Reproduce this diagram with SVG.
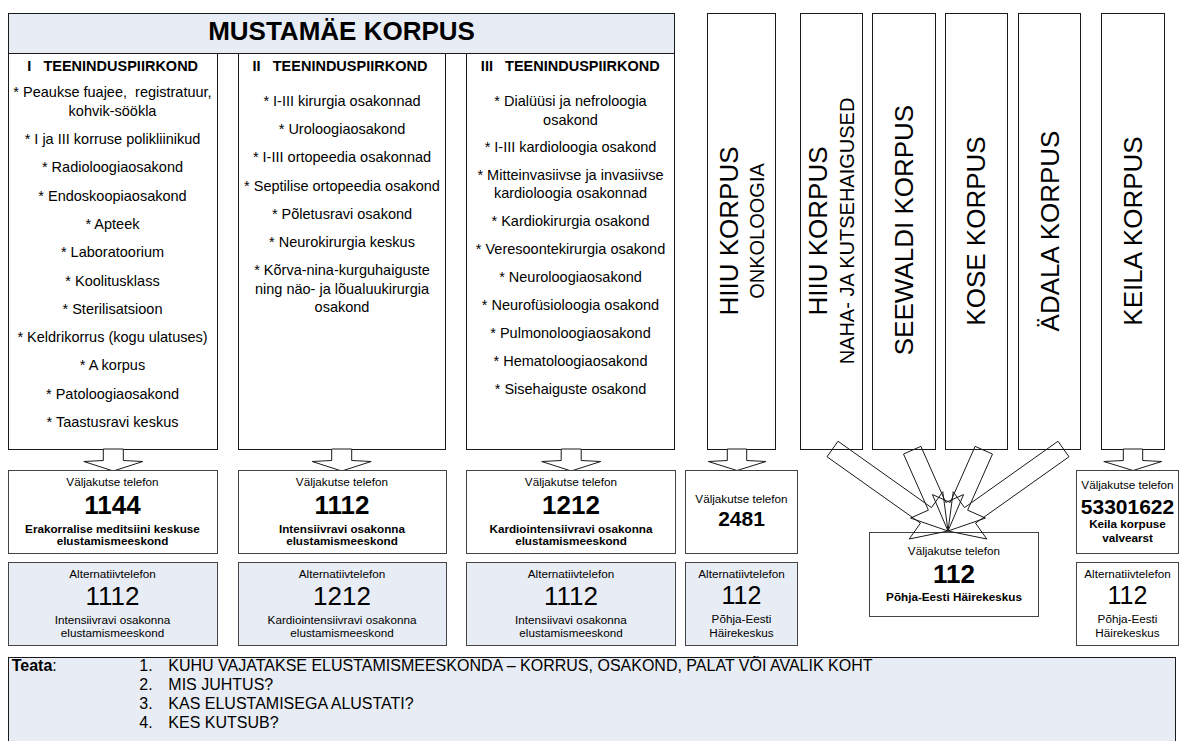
<svg xmlns="http://www.w3.org/2000/svg" width="1182" height="741" viewBox="0 0 1182 741">
<style>
text{font-family:"Liberation Sans",Arial,sans-serif;fill:#000}
.box{fill:#fff;stroke:#1a1a1a;stroke-width:1}
.hdr{fill:#E8ECF4;stroke:#1a1a1a;stroke-width:1}
.val{fill:#fff;stroke:#444;stroke-width:1}
.alt{fill:#E8ECF4;stroke:#444;stroke-width:1}
.arr{fill:#fff;stroke:#1a1a1a;stroke-width:1}
.fan{fill:none;stroke:#1a1a1a;stroke-width:1}
.title{font-size:26px;font-weight:bold;text-anchor:middle}
.ch{font-size:14.5px;font-weight:bold;text-anchor:middle;white-space:pre}
.it{font-size:14.5px;text-anchor:middle;white-space:pre}
.vbig{font-size:26px;text-anchor:middle}
.vsub{font-size:20px;text-anchor:middle}
.lbl{font-size:11.7px;text-anchor:middle}
.lblb{font-size:11.7px;font-weight:bold;text-anchor:middle}
.numb{font-size:26px;font-weight:bold;text-anchor:middle}
.num{font-size:26px;text-anchor:middle}
.ft{font-size:16px}
</style>

<g id="mustamae-header">
<rect class="hdr" x="8.5" y="13.5" width="666" height="40"/>
<text class="title" x="341.5" y="40">MUSTAMÄE KORPUS</text>
</g>

<g id="teenindus-1">
<rect class="box" x="8.5" y="53.5" width="209" height="396"/>
<text class="ch" x="112.7" y="71">I   TEENINDUSPIIRKOND</text>
<text class="it" x="112.5" y="96.5">* Peaukse fuajee,  registratuur,</text>
<text class="it" x="112.5" y="116">kohvik-söökla</text>
<text class="it" x="112.5" y="144">* I ja III korruse polikliinikud</text>
<text class="it" x="112.5" y="172.3">* Radioloogiaosakond</text>
<text class="it" x="112.5" y="200.6">* Endoskoopiaosakond</text>
<text class="it" x="112.5" y="228.9">* Apteek</text>
<text class="it" x="112.5" y="257.2">* Laboratoorium</text>
<text class="it" x="112.5" y="285.5">* Koolitusklass</text>
<text class="it" x="112.5" y="313.8">* Sterilisatsioon</text>
<text class="it" x="112.5" y="342.1">* Keldrikorrus (kogu ulatuses)</text>
<text class="it" x="112.5" y="370.4">* A korpus</text>
<text class="it" x="112.5" y="398.7">* Patoloogiaosakond</text>
<text class="it" x="112.5" y="427">* Taastusravi keskus</text>
</g>

<g id="teenindus-2">
<rect class="box" x="238.5" y="53.5" width="207" height="396"/>
<text class="ch" x="340" y="71">II   TEENINDUSPIIRKOND</text>
<text class="it" x="342" y="106">* I-III kirurgia osakonnad</text>
<text class="it" x="342" y="134.2">* Uroloogiaosakond</text>
<text class="it" x="342" y="162.4">* I-III ortopeedia osakonnad</text>
<text class="it" x="342" y="190.6">* Septilise ortopeedia osakond</text>
<text class="it" x="342" y="218.8">* Põletusravi osakond</text>
<text class="it" x="342" y="247">* Neurokirurgia keskus</text>
<text class="it" x="342" y="275.2">* Kõrva-nina-kurguhaiguste</text>
<text class="it" x="342" y="293.7">ning näo- ja lõualuukirurgia</text>
<text class="it" x="342" y="312.2">osakond</text>
</g>

<g id="teenindus-3">
<rect class="box" x="466.5" y="53.5" width="208" height="396"/>
<text class="ch" x="570.3" y="71">III   TEENINDUSPIIRKOND</text>
<text class="it" x="570.5" y="106">* Dialüüsi ja nefroloogia</text>
<text class="it" x="570.5" y="124.5">osakond</text>
<text class="it" x="570.5" y="152">* I-III kardioloogia osakond</text>
<text class="it" x="570.5" y="180">* Mitteinvasiivse ja invasiivse</text>
<text class="it" x="570.5" y="198">kardioloogia osakonnad</text>
<text class="it" x="570.5" y="226">* Kardiokirurgia osakond</text>
<text class="it" x="570.5" y="253.5">* Veresoontekirurgia osakond</text>
<text class="it" x="570.5" y="282">* Neuroloogiaosakond</text>
<text class="it" x="570.5" y="310">* Neurofüsioloogia osakond</text>
<text class="it" x="570.5" y="338">* Pulmonoloogiaosakond</text>
<text class="it" x="570.5" y="366">* Hematoloogiaosakond</text>
<text class="it" x="570.5" y="393.5">* Sisehaiguste osakond</text>
</g>

<g id="hiiu-onkoloogia">
<rect class="box" x="707.5" y="13.5" width="68" height="436"/>
<text class="vbig" transform="translate(737.5,231) rotate(-90)">HIIU KORPUS</text>
<text class="vsub" transform="translate(763.5,231) rotate(-90)">ONKOLOOGIA</text>
</g>
<g id="hiiu-naha">
<rect class="box" x="800.5" y="13.5" width="62" height="436"/>
<text class="vbig" transform="translate(827,231) rotate(-90)">HIIU KORPUS</text>
<text class="vsub" transform="translate(853.5,231) rotate(-90)">NAHA- JA KUTSEHAIGUSED</text>
</g>
<g id="seewaldi">
<rect class="box" x="872.5" y="13.5" width="63" height="436"/>
<text class="vbig" transform="translate(912.5,230) rotate(-90)">SEEWALDI KORPUS</text>
</g>
<g id="kose">
<rect class="box" x="945.5" y="13.5" width="62" height="436"/>
<text class="vbig" transform="translate(985,231) rotate(-90)">KOSE KORPUS</text>
</g>
<g id="adala">
<rect class="box" x="1018.5" y="13.5" width="62" height="436"/>
<text class="vbig" transform="translate(1058.5,231) rotate(-90)">ÄDALA KORPUS</text>
</g>
<g id="keila">
<rect class="box" x="1101.5" y="13.5" width="63" height="436"/>
<text class="vbig" transform="translate(1141.7,231) rotate(-90)">KEILA KORPUS</text>
</g>

<g id="connectors">
<polygon class="arr" points="103.3,449 123.3,449 123.3,460.5 142.8,461.5 113.3,471 83.8,461.5 103.3,460.5"/>
<polygon class="arr" points="331.7,449 351.7,449 351.7,460.5 371.2,461.5 341.7,471 312.2,461.5 331.7,460.5"/>
<polygon class="arr" points="561.2,449 581.2,449 581.2,460.5 600.7,461.5 571.2,471 541.7,461.5 561.2,460.5"/>
<polygon class="arr" points="727.3,449 746.7,449 746.7,460.5 766,461.5 737,470.5 708.3,461.5 727.3,460.5"/>
<polygon class="arr" points="1123.3,449 1142.7,449 1142.7,460.5 1161.7,461.5 1133,470.5 1103.8,461.5 1123.3,460.5"/>
</g>

<g id="val-1">
<rect class="val" x="8.5" y="470.5" width="209" height="83"/>
<text class="lbl" x="112.5" y="486">Väljakutse telefon</text>
<text class="numb" x="112.5" y="513.6">1144</text>
<text class="lblb" x="112.5" y="532.5">Erakorralise meditsiini keskuse</text>
<text class="lblb" x="112.5" y="545">elustamismeeskond</text>
</g>
<g id="alt-1">
<rect class="alt" x="8.5" y="562.5" width="209" height="83"/>
<text class="lbl" x="112.5" y="577.5">Alternatiivtelefon</text>
<text class="num" x="112.5" y="605">1112</text>
<text class="lbl" x="112.5" y="623.5">Intensiivravi osakonna</text>
<text class="lbl" x="112.5" y="637">elustamismeeskond</text>
</g>

<g id="val-2">
<rect class="val" x="238.5" y="470.5" width="208" height="83"/>
<text class="lbl" x="342" y="486">Väljakutse telefon</text>
<text class="numb" x="342" y="513.6">1112</text>
<text class="lblb" x="342" y="532.5">Intensiivravi osakonna</text>
<text class="lblb" x="342" y="545">elustamismeeskond</text>
</g>
<g id="alt-2">
<rect class="alt" x="238.5" y="562.5" width="208" height="83"/>
<text class="lbl" x="342" y="577.5">Alternatiivtelefon</text>
<text class="num" x="342" y="605">1212</text>
<text class="lbl" x="342" y="623.5">Kardiointensiivravi osakonna</text>
<text class="lbl" x="342" y="637">elustamismeeskond</text>
</g>

<g id="val-3">
<rect class="val" x="466.5" y="470.5" width="209" height="83"/>
<text class="lbl" x="571" y="486">Väljakutse telefon</text>
<text class="numb" x="571" y="513.6">1212</text>
<text class="lblb" x="571" y="532.5">Kardiointensiivravi osakonna</text>
<text class="lblb" x="571" y="545">elustamismeeskond</text>
</g>
<g id="alt-3">
<rect class="alt" x="466.5" y="562.5" width="209" height="83"/>
<text class="lbl" x="571" y="577.5">Alternatiivtelefon</text>
<text class="num" x="571" y="605">1112</text>
<text class="lbl" x="571" y="623.5">Intensiivavi osakonna</text>
<text class="lbl" x="571" y="637">elustamismeeskond</text>
</g>

<g id="val-hiiu">
<rect class="val" x="685.5" y="470.5" width="112" height="83"/>
<text class="lbl" x="741.5" y="502.5">Väljakutse telefon</text>
<text class="numb" x="741.5" y="526" style="font-size:21px">2481</text>
</g>
<g id="alt-hiiu">
<rect class="alt" x="685.5" y="562.5" width="112" height="83"/>
<text class="lbl" x="741.5" y="578">Alternatiivtelefon</text>
<text class="num" x="741.5" y="604" style="font-size:25px">112</text>
<text class="lbl" x="741.5" y="623">Põhja-Eesti</text>
<text class="lbl" x="741.5" y="637">Häirekeskus</text>
</g>

<g id="val-keila">
<rect class="val" x="1076.5" y="470.5" width="102" height="83"/>
<text class="lbl" x="1127.5" y="489">Väljakutse telefon</text>
<text class="numb" x="1127.5" y="513.5" style="font-size:21px">53301622</text>
<text class="lblb" x="1127.5" y="528">Keila korpuse</text>
<text class="lblb" x="1127.5" y="541.5">valvearst</text>
</g>
<g id="alt-keila">
<rect class="val" x="1076.5" y="562.5" width="102" height="83"/>
<text class="lbl" x="1127.5" y="578">Alternatiivtelefon</text>
<text class="num" x="1127.5" y="604" style="font-size:25px">112</text>
<text class="lbl" x="1127.5" y="623">Põhja-Eesti</text>
<text class="lbl" x="1127.5" y="637">Häirekeskus</text>
</g>

<g id="haire-112">
<rect class="val" x="869.5" y="532.5" width="169" height="84"/>
<text class="lbl" x="954" y="555">Väljakutse telefon</text>
<text class="numb" x="954" y="582.6">112</text>
<text class="lblb" x="954" y="601">Põhja-Eesti Häirekeskus</text>
</g>

<g id="fan-connectors">
<polygon class="fan" points="838,441.25 931.48,507.62 942.77,491.72 948,531 909.19,539.02 920.48,523.12 827,456.75"/>
<polygon class="fan" points="920.88,446.35 945.74,502.47 963.57,494.57 948,531 910.55,518.07 928.38,510.17 903.52,454.05"/>
<polygon class="fan" points="975.12,446.35 950.26,502.47 932.43,494.57 948,531 985.45,518.07 967.62,510.17 992.48,454.05"/>
<polygon class="fan" points="1058,441.25 964.52,507.62 953.23,491.72 948,531 986.81,539.02 975.52,523.12 1069,456.75"/>
</g>

<g id="teata">
<rect class="hdr" x="8.5" y="657.5" width="1167" height="100"/>
<text class="ft" x="11.7" y="671"><tspan font-weight="bold">Teata</tspan>:</text>
<text class="ft" x="139.3" y="671">1.</text>
<text class="ft" x="168.3" y="671">KUHU VAJATAKSE ELUSTAMISMEESKONDA – KORRUS, OSAKOND, PALAT VÕI AVALIK KOHT</text>
<text class="ft" x="139.3" y="690">2.</text>
<text class="ft" x="168.3" y="690">MIS JUHTUS?</text>
<text class="ft" x="139.3" y="709">3.</text>
<text class="ft" x="168.3" y="709">KAS ELUSTAMISEGA ALUSTATI?</text>
<text class="ft" x="139.3" y="728">4.</text>
<text class="ft" x="168.3" y="728">KES KUTSUB?</text>
</g>
</svg>
